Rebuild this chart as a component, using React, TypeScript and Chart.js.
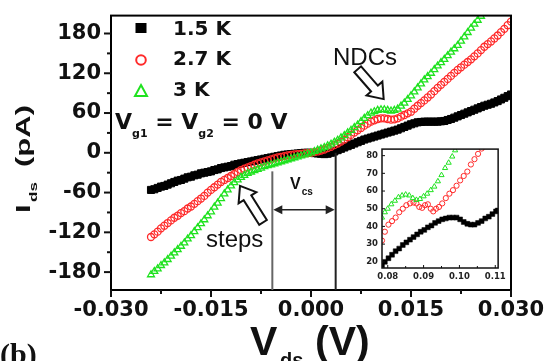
import React, { useEffect, useRef } from "react";
import { Chart, registerables } from "chart.js";

Chart.register(...registerables);

// ---------------- main chart data (Vds in mV, Ids in pA) ----------------
const vdsMv = [
  -24, -23.5, -23, -22.5, -22, -21.5, -21, -20.5, -20, -19.5, -19, -18.5, -18, -17.5, -17, -16.5,
  -16, -15.5, -15, -14.5, -14, -13.5, -13, -12.5, -12, -11.5, -11, -10.5, -10, -9.5, -9, -8.5, -8,
  -7.5, -7, -6.5, -6, -5.5, -5, -4.5, -4, -3.5, -3, -2.5, -2, -1.5, -1, -0.5,
  0, 0.5, 1, 1.5, 2, 2.5, 3, 3.5, 4, 4.5, 5, 5.5, 6, 6.5, 7, 7.5, 8, 8.5, 9, 9.5, 10, 10.5, 11, 11.5,
  12, 12.5, 13, 13.5, 14, 14.5, 15, 15.5, 16, 16.5, 17, 17.5, 18, 18.5, 19, 19.5, 20, 20.5, 21, 21.5,
  22, 22.5, 23, 23.5, 24, 24.5, 25, 25.5, 26, 26.5, 27, 27.5, 28, 28.5, 29, 29.5, 30,
];

const ids15K = [
  -56, -55, -53, -51, -50, -48, -46, -44, -42, -41, -39, -37, -36, -34, -33, -31, -30, -29, -28, -26,
  -25, -23, -22, -21, -20, -18, -17, -16, -15, -14, -13, -12, -11, -10, -9, -8, -7, -6, -5, -4, -3,
  -2.5, -2, -1.5, -1, -0.5, 0, 0,
  0, -0.5, -1, -1.5, -2, -1.5, 0, 2, 4, 6, 8, 10, 12, 14, 16, 18, 20, 21.5, 23, 24.5, 26, 27.5, 29,
  30.5, 32, 33.5, 35, 37, 39, 41, 43, 44.5, 46, 46.5, 47, 47, 47, 47, 47, 47.5, 48, 49.5, 51, 53, 55,
  57, 59, 61, 63, 65, 67, 69, 71, 72.5, 74, 76, 78, 80.5, 83, 85.5, 88,
];

const ids27K = [
  -127, -123, -119, -114, -110, -106, -102, -98, -95, -91, -88, -84, -81, -77, -73, -69, -65, -60,
  -56, -52, -48, -44, -41, -38, -35, -32, -29, -26, -24, -22, -20, -18, -16, -14.5, -13, -11.5, -10,
  -8.5, -7, -6, -5, -4, -3, -2.5, -2, -1.5, -1, -0.5,
  0, 1, 2, 3.5, 5, 7, 9, 11.5, 14, 17, 20, 23.5, 27, 30.5, 34, 37.5, 41, 44, 47, 49, 51, 52, 52, 51,
  50, 50.5, 52, 54.5, 57, 59.5, 62, 66.5, 71, 75, 79, 83.5, 88, 93, 98, 102.5, 107, 111.5, 116,
  120.5, 125, 129, 133, 137, 141, 145.5, 150, 155, 160, 164, 168, 172.5, 177, 182, 187, 192.5, 198,
];

const ids3K = [
  -184, -179, -175, -170, -166, -161, -156, -151, -146, -141, -136, -130, -125, -119, -113, -107,
  -101, -95, -89, -82, -76, -69, -62, -56, -50, -45, -41, -37, -34, -31, -29, -27, -25, -23, -21,
  -19.5, -18, -16.5, -15, -13.5, -12, -10.5, -9, -7.5, -6, -4.5, -3, -1.5,
  0, 2, 4, 6, 8, 10.5, 13, 16, 19, 22.5, 26, 30, 34, 38, 42, 47, 52, 56, 60, 62, 64, 65, 65, 64, 63,
  64, 66, 70.5, 75, 80.5, 86, 92, 98, 104, 110, 115, 120, 125.5, 131, 136, 141, 146.5, 152, 157,
  162, 168.5, 175, 181.5, 188, 194, 200, 206,
];

const seriesLabels = ["1.5 K", "2.7 K", "3 K"];

const xTickValues = [-0.03, -0.0225, -0.015, -0.0075, 0, 0.0075, 0.015, 0.0225, 0.03];
const xLabeledTicks = [-0.03, -0.015, 0, 0.015, 0.03];
const yTickValues = [-180, -150, -120, -90, -60, -30, 0, 30, 60, 90, 120, 150, 180];
const yLabeledTicks = [-180, -120, -60, 0, 60, 120, 180];

// annotation anchors (mV, pA)
const vcsBoundsMv = [-5.8, 3.7];
const vcsTopsPa = [-28, 0];
const vcsArrowPa = -86;

// ---------------- inset data ----------------
const insetRedX = [7.84, 7.92, 8.02, 8.12, 8.22, 8.32, 8.42, 8.52, 8.62, 8.72, 8.8, 8.88, 8.96, 9.04, 9.12, 9.2, 9.27, 9.35, 9.43, 9.52, 9.62, 9.72, 9.82, 9.92, 10.02, 10.12, 10.22, 10.32, 10.42, 10.52, 10.62];
const insetRedY = [32, 37, 41, 43, 45, 48, 50, 52, 53, 53.5, 53, 51, 50.5, 52, 52.5, 50, 48.5, 50, 51, 53, 56, 58.5, 60.5, 63, 66, 68.5, 71, 75, 78, 81, 84];

const insetGreenX = [7.84, 7.92, 8.0, 8.1, 8.2, 8.3, 8.4, 8.5, 8.6, 8.7, 8.8, 8.9, 9.0, 9.1, 9.2, 9.3, 9.4, 9.5, 9.6, 9.7, 9.8, 9.88];
const insetGreenY = [45, 48, 50, 52.5, 54.5, 56.5, 57.5, 58, 57.5, 56, 55, 55.5, 57, 58.5, 60.5, 62.5, 65.5, 69, 73, 76, 79.5, 83];

const insetBlackX = [7.84, 7.92, 8.02, 8.12, 8.22, 8.32, 8.42, 8.52, 8.62, 8.72, 8.82, 8.92, 9.02, 9.12, 9.22, 9.32, 9.42, 9.52, 9.62, 9.72, 9.82, 9.92, 10.02, 10.12, 10.22, 10.32, 10.42, 10.52, 10.62, 10.72, 10.82, 10.92, 11.02, 11.07];
const insetBlackY = [18, 20, 22, 24, 26, 27.5, 29.5, 31, 32.5, 34, 35.5, 37, 38, 39.5, 40.5, 42, 43, 44, 44.5, 45, 45, 45, 44, 42.5, 41.5, 41, 41, 42, 43, 44.5, 45.5, 47, 48.5, 49];

const insetXTicks = [8, 8.5, 9, 9.5, 10, 10.5, 11];
const insetXLabeled = [8, 9, 10, 11];
const insetYTicks = [20, 30, 40, 50, 60, 70, 80];

const BLACK = "#000000";
const RED = "#ff2a2a";
const GREEN = "#1fe21f";

function near(list: number[], v: number, eps = 1e-9) {
  return list.some((t) => Math.abs(t - v) < eps);
}

function blockArrow(ctx: any, x1: number, y1: number, x2: number, y2: number, shaft: number, head: number, headLen: number) {
  const L = Math.hypot(x2 - x1, y2 - y1);
  ctx.save();
  ctx.translate(x1, y1);
  ctx.rotate(Math.atan2(y2 - y1, x2 - x1));
  ctx.beginPath();
  ctx.moveTo(0, -shaft / 2);
  ctx.lineTo(L - headLen, -shaft / 2);
  ctx.lineTo(L - headLen, -head / 2);
  ctx.lineTo(L, 0);
  ctx.lineTo(L - headLen, head / 2);
  ctx.lineTo(L - headLen, shaft / 2);
  ctx.lineTo(0, shaft / 2);
  ctx.closePath();
  ctx.fillStyle = "#ffffff";
  ctx.fill();
  ctx.lineWidth = 2;
  ctx.lineJoin = "miter";
  ctx.strokeStyle = "#111";
  ctx.stroke();
  ctx.restore();
}

function arrowHead(ctx: any, x: number, y: number, dir: number) {
  ctx.beginPath();
  ctx.moveTo(x, y);
  ctx.lineTo(x - dir * 9, y - 4.5);
  ctx.lineTo(x - dir * 9, y + 4.5);
  ctx.closePath();
  ctx.fill();
}

const annotPlugin = {
  id: "annot",
  afterDraw(chart: any) {
    const { ctx, chartArea: ca, scales } = chart;
    const xs = scales.x;
    const ys = scales.y;
    const X = (mv: number) => xs.getPixelForValue(mv / 1000);
    const Y = (pa: number) => ys.getPixelForValue(pa);
    ctx.save();

    // frame
    ctx.strokeStyle = "#000";
    ctx.lineWidth = 2;
    ctx.strokeRect(ca.left, ca.top, ca.right - ca.left, ca.bottom - ca.top);

    // tick marks (outward, major/minor)
    ctx.lineWidth = 2;
    ctx.strokeStyle = "#111";
    for (const t of ys.ticks) {
      const y = ys.getPixelForValue(t.value);
      const len = near(yLabeledTicks, t.value) ? 7 : 4;
      ctx.beginPath();
      ctx.moveTo(ca.left - len, y);
      ctx.lineTo(ca.left, y);
      ctx.stroke();
    }
    for (const t of xs.ticks) {
      const x = xs.getPixelForValue(t.value);
      const len = near(xLabeledTicks, t.value) ? 7 : 4;
      ctx.beginPath();
      ctx.moveTo(x, ca.bottom);
      ctx.lineTo(x, ca.bottom + len);
      ctx.stroke();
    }

    // V_cs vertical lines and double arrow
    ctx.lineWidth = 2;
    ctx.strokeStyle = "#666";
    ctx.beginPath();
    ctx.moveTo(X(vcsBoundsMv[0]), Y(vcsTopsPa[0]));
    ctx.lineTo(X(vcsBoundsMv[0]), ca.bottom);
    ctx.stroke();
    ctx.strokeStyle = "#222";
    ctx.beginPath();
    ctx.moveTo(X(vcsBoundsMv[1]), Y(vcsTopsPa[1]));
    ctx.lineTo(X(vcsBoundsMv[1]), ca.bottom);
    ctx.stroke();
    const ay = Y(vcsArrowPa);
    const ax1 = X(vcsBoundsMv[0]) + 1;
    const ax2 = X(vcsBoundsMv[1]) - 1;
    ctx.strokeStyle = "#222";
    ctx.fillStyle = "#222";
    ctx.lineWidth = 1.5;
    ctx.beginPath();
    ctx.moveTo(ax1 + 6, ay);
    ctx.lineTo(ax2 - 6, ay);
    ctx.stroke();
    arrowHead(ctx, ax1, ay, -1);
    arrowHead(ctx, ax2, ay, 1);

    // V_cs label
    ctx.fillStyle = "#111";
    ctx.textBaseline = "alphabetic";
    ctx.textAlign = "left";
    ctx.font = "bold 16px 'Liberation Sans', Arial, sans-serif";
    const vx = X(-3.15);
    const vy = Y(-54.6);
    ctx.fillText("V", vx, vy);
    const vw = ctx.measureText("V").width;
    ctx.font = "bold 10px 'Liberation Sans', Arial, sans-serif";
    ctx.fillText("cs", vx + vw + 1, vy + 6);

    // block arrows
    blockArrow(ctx, X(7.0), Y(126), X(10.9), Y(81), 9, 21, 14);
    blockArrow(ctx, X(-7.2), Y(-105), X(-10.65), Y(-50), 9, 21, 14);

    // NDCs / steps labels
    ctx.fillStyle = "#111";
    ctx.font = "24px 'Liberation Sans', Arial, sans-serif";
    ctx.fillText("NDCs", X(3.3), Y(132));
    ctx.fillText("steps", X(-15.75), Y(-142.7));

    // legend
    const lx = ca.left + 30;
    const tx = ca.left + 62;
    ctx.fillStyle = BLACK;
    ctx.fillRect(lx - 5.5, 28 - 5, 11, 10);
    ctx.strokeStyle = RED;
    ctx.lineWidth = 2;
    ctx.beginPath();
    ctx.arc(lx, 60, 4.8, 0, Math.PI * 2);
    ctx.stroke();
    ctx.strokeStyle = GREEN;
    ctx.beginPath();
    ctx.moveTo(lx, 85);
    ctx.lineTo(lx + 6, 96);
    ctx.lineTo(lx - 6, 96);
    ctx.closePath();
    ctx.stroke();
    ctx.fillStyle = "#111";
    ctx.font = "bold 20px 'DejaVu Sans', sans-serif";
    ctx.fillText(seriesLabels[0], tx, 35);
    ctx.fillText(seriesLabels[1], tx, 65);
    ctx.fillText(seriesLabels[2], tx, 96);

    // V_g1 = V_g2 = 0 V
    const big = "bold 22px 'DejaVu Sans', sans-serif";
    const small = "bold 11px 'DejaVu Sans', sans-serif";
    const parts: [string, string, number][] = [
      ["V", big, 0],
      ["g1", small, 8],
      [" = ", big, 0],
      ["V", big, 0],
      ["g2", small, 8],
      [" = 0 V", big, 0],
    ];
    let px = ca.left + 4;
    for (const [txt, f, dy] of parts) {
      ctx.font = f;
      ctx.fillText(txt, px, 129 + dy);
      px += ctx.measureText(txt).width;
    }

    // x axis title
    ctx.font = "bold 41px 'Liberation Sans', Arial, sans-serif";
    ctx.fillText("V", 250, 355);
    ctx.font = "bold 20px 'Liberation Sans', Arial, sans-serif";
    ctx.fillText("ds", 280, 367);
    ctx.font = "bold 41px 'Liberation Sans', Arial, sans-serif";
    ctx.fillText("(V)", 315, 355);

    // y axis title (rotated)
    ctx.save();
    ctx.translate(30, 213);
    ctx.rotate(-Math.PI / 2);
    ctx.scale(1, 0.65);
    ctx.font = "bold 31px 'Liberation Sans', Arial, sans-serif";
    ctx.fillText("I", 0, 0);
    ctx.font = "bold 17px 'Liberation Sans', Arial, sans-serif";
    ctx.fillText("ds", 11, 10);
    ctx.font = "bold 31px 'Liberation Sans', Arial, sans-serif";
    ctx.fillText("(pA)", 46, 0);
    ctx.restore();

    // panel label
    ctx.font = "bold 30px 'Liberation Serif', 'Times New Roman', serif";
    ctx.fillText("(b)", 0, 364);

    ctx.restore();
  },
};

const insetPlugin = {
  id: "insetFrame",
  afterDraw(chart: any) {
    const { ctx, chartArea: ca, scales } = chart;
    ctx.save();
    ctx.strokeStyle = "#111";
    ctx.lineWidth = 1.5;
    ctx.strokeRect(ca.left, ca.top, ca.right - ca.left, ca.bottom - ca.top);
    ctx.lineWidth = 1;
    for (const t of scales.x.ticks) {
      const x = scales.x.getPixelForValue(t.value);
      const len = near(insetXLabeled, t.value) ? 3 : 2;
      ctx.beginPath();
      ctx.moveTo(x, ca.bottom);
      ctx.lineTo(x, ca.bottom - len);
      ctx.stroke();
    }
    for (const t of scales.y.ticks) {
      const y = scales.y.getPixelForValue(t.value);
      ctx.beginPath();
      ctx.moveTo(ca.left, y);
      ctx.lineTo(ca.left + 3, y);
      ctx.stroke();
    }
    ctx.restore();
  },
};

function toPoints(xs: number[], ys: number[], scale: number) {
  return ys.map((y, i) => ({ x: xs[i] / scale, y }));
}

export default function App() {
  const mainRef = useRef<HTMLCanvasElement | null>(null);
  const insetRef = useRef<HTMLCanvasElement | null>(null);

  useEffect(() => {
    const tickFont = { family: "'DejaVu Sans', sans-serif", weight: "bold" as const, size: 21 };
    const hiddenGrid = {
      display: true,
      drawOnChartArea: false,
      drawTicks: true,
      tickLength: 7,
      color: "rgba(0,0,0,0)",
      tickColor: "rgba(0,0,0,0)",
    };
    const main = new Chart(mainRef.current as HTMLCanvasElement, {
      type: "scatter",
      data: {
        datasets: [
          {
            label: seriesLabels[2],
            data: toPoints(vdsMv, ids3K, 1000),
            pointStyle: "triangle",
            pointRadius: 4,
            pointBorderWidth: 1.3,
            borderColor: GREEN,
            backgroundColor: "rgba(255,255,255,0)",
            order: 0,
          },
          {
            label: seriesLabels[1],
            data: toPoints(vdsMv, ids27K, 1000),
            pointStyle: "circle",
            pointRadius: 3.5,
            pointBorderWidth: 1.3,
            borderColor: RED,
            backgroundColor: "rgba(255,255,255,0)",
            order: 1,
          },
          {
            label: seriesLabels[0],
            data: toPoints(vdsMv, ids15K, 1000),
            pointStyle: "rect",
            pointRadius: 5,
            pointBorderWidth: 1,
            borderColor: BLACK,
            backgroundColor: BLACK,
            order: 2,
          },
        ],
      },
      options: {
        responsive: false,
        animation: false,
        devicePixelRatio: 1,
        layout: { padding: { left: 0, right: 40, top: 13, bottom: 0 } },
        plugins: { legend: { display: false }, tooltip: { enabled: false } },
        scales: {
          x: {
            type: "linear",
            min: -0.03,
            max: 0.03,
            afterBuildTicks: (s: any) => {
              s.ticks = xTickValues.map((v) => ({ value: v }));
            },
            afterFit: (s: any) => {
              s.height = 71;
            },
            grid: hiddenGrid,
            border: { display: false },
            ticks: {
              autoSkip: false,
              maxRotation: 0,
              padding: 1,
              color: "#111",
              font: tickFont,
              callback: (v: any) => (near(xLabeledTicks, Number(v)) ? Number(v).toFixed(3) : ""),
            },
          },
          y: {
            type: "linear",
            min: -207,
            max: 207,
            afterBuildTicks: (s: any) => {
              s.ticks = yTickValues.map((v) => ({ value: v }));
            },
            afterFit: (s: any) => {
              s.width = 111;
            },
            grid: hiddenGrid,
            border: { display: false },
            ticks: {
              autoSkip: false,
              padding: 3,
              color: "#111",
              font: tickFont,
              callback: (v: any) => (near(yLabeledTicks, Number(v)) ? String(v) : ""),
            },
          },
        },
      },
      plugins: [annotPlugin],
    } as any);

    const insetFont = { family: "'DejaVu Sans', sans-serif", weight: "bold" as const, size: 8.5 };
    const inset = new Chart(insetRef.current as HTMLCanvasElement, {
      type: "scatter",
      data: {
        datasets: [
          {
            data: toPoints(insetGreenX, insetGreenY, 1),
            pointStyle: "triangle",
            pointRadius: 3,
            pointBorderWidth: 1,
            borderColor: GREEN,
            backgroundColor: "rgba(255,255,255,0)",
            order: 0,
          },
          {
            data: toPoints(insetRedX, insetRedY, 1),
            pointStyle: "circle",
            pointRadius: 2.6,
            pointBorderWidth: 1,
            borderColor: RED,
            backgroundColor: "rgba(255,255,255,0)",
            order: 1,
          },
          {
            data: toPoints(insetBlackX, insetBlackY, 1),
            pointStyle: "rect",
            pointRadius: 3.4,
            pointBorderWidth: 0.5,
            borderColor: BLACK,
            backgroundColor: BLACK,
            order: 2,
          },
        ],
      },
      options: {
        responsive: false,
        animation: false,
        devicePixelRatio: 1,
        layout: { padding: { left: 0, right: 10, top: 6, bottom: 0 } },
        plugins: { legend: { display: false }, tooltip: { enabled: false } },
        scales: {
          x: {
            type: "linear",
            min: 7.84,
            max: 11.08,
            afterBuildTicks: (s: any) => {
              s.ticks = insetXTicks.map((v) => ({ value: v }));
            },
            afterFit: (s: any) => {
              s.height = 22;
            },
            grid: { display: false, drawTicks: false },
            border: { display: false },
            ticks: {
              autoSkip: false,
              maxRotation: 0,
              padding: 4,
              color: "#222",
              font: insetFont,
              callback: (v: any) => (near(insetXLabeled, Number(v)) ? (Number(v) / 100).toFixed(2) : ""),
            },
          },
          y: {
            type: "linear",
            min: 16.5,
            max: 83.7,
            afterBuildTicks: (s: any) => {
              s.ticks = insetYTicks.map((v) => ({ value: v }));
            },
            afterFit: (s: any) => {
              s.width = 32;
            },
            grid: { display: false, drawTicks: false },
            border: { display: false },
            ticks: {
              autoSkip: false,
              padding: 4,
              color: "#222",
              font: insetFont,
              callback: (v: any) => String(v),
            },
          },
        },
      },
      plugins: [insetPlugin],
    } as any);

    return () => {
      main.destroy();
      inset.destroy();
    };
  }, []);

  return (
    <div style={{ position: "absolute", left: 0, top: 0, width: 551, height: 361, background: "#fff", overflow: "hidden" }}>
      <canvas ref={mainRef} width={551} height={361} style={{ position: "absolute", left: 0, top: 0 }} />
      <canvas ref={insetRef} width={160} height={150} style={{ position: "absolute", left: 350, top: 140 }} />
    </div>
  );
}
